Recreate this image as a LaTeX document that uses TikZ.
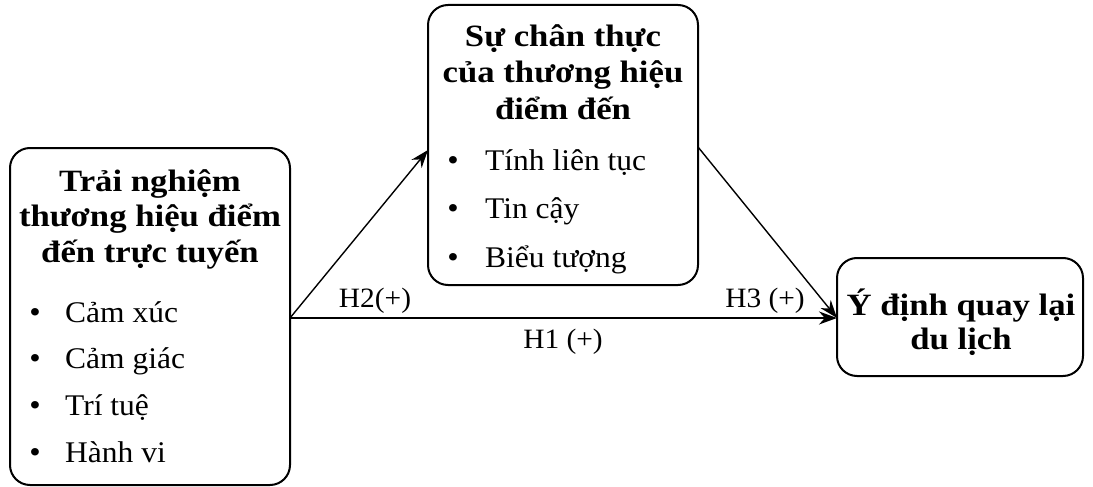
\documentclass[tikz,border=0pt]{standalone}
\usepackage{fontspec}
\setmainfont[FakeStretch=1.05]{Liberation Serif}
\newfontfamily\headfont[FakeStretch=1.12]{Liberation Serif}
\usetikzlibrary{arrows.meta}
\tikzset{
  box/.style={draw, line width=2pt, rounded corners=20pt, inner sep=0pt},
  head/.style={font=\headfont\fontsize{31}{36}\selectfont\bfseries, anchor=base, inner sep=0pt},
  item/.style={font=\fontsize{30}{36}\selectfont, anchor=base west, inner sep=0pt},
  dot/.style={font=\fontsize{31}{36}\selectfont, anchor=base, inner sep=0pt},
  lbl/.style={font=\fontsize{28}{32}\selectfont, anchor=base, inner sep=0pt},
  link/.style={line width=1.4pt, -{Stealth[length=18pt, width=13pt]}}
}
\begin{document}
\begin{tikzpicture}[x=1pt, y=-1pt]
\useasboundingbox (0,0) rectangle (1093,487);
% boxes
\draw[box] (10,148) rectangle (290,485);
\draw[box] (428,5) rectangle (698,285);
\draw[box] (837,258) rectangle (1083,376);
\coordinate (expR) at (290,318);
\coordinate (authL) at (428,150);
\coordinate (authR) at (698,147);
\coordinate (intL) at (837,318);
% left block
\node[head] (expT1) at (150,191) {Trải nghiệm};
\node[head] (expT2) at (150,226) {thương hiệu điểm};
\node[head] (expT3) at (150,262) {đến trực tuyến};
\foreach \t/\yy [count=\i] in {Cảm xúc/322, Cảm giác/368, Trí tuệ/415, Hành vi/462}{
  \node[dot] (expB\i) at (35,\yy) {•};
  \node[item] (expI\i) at (65,\yy) {\t};
}
% middle block
\node[head] (autT1) at (563,47) {Sự chân thực};
\node[head] (autT2) at (563,83) {của thương hiệu};
\node[head] (autT3) at (563,120) {điểm đến};
\foreach \t/\yy [count=\i] in {Tính liên tục/170, Tin cậy/218, Biểu tượng/267}{
  \node[dot] (autB\i) at (453,\yy) {•};
  \node[item] (autI\i) at (485,\yy) {\t};
}
% right block
\node[head] (intT1) at (961,315) {Ý định quay lại};
\node[head] (intT2) at (961,349) {du lịch};
% connectors
\draw[link] (expR) -- (intL);
\draw[link] (expR) -- (authL);
\draw[link] (authR) -- (intL);
\node[lbl] (h2) at (375,307) {H2(+)};
\node[lbl] (h3) at (765,307) {H3 (+)};
\node[lbl] (h1) at (563,348) {H1 (+)};
\end{tikzpicture}
\end{document}
